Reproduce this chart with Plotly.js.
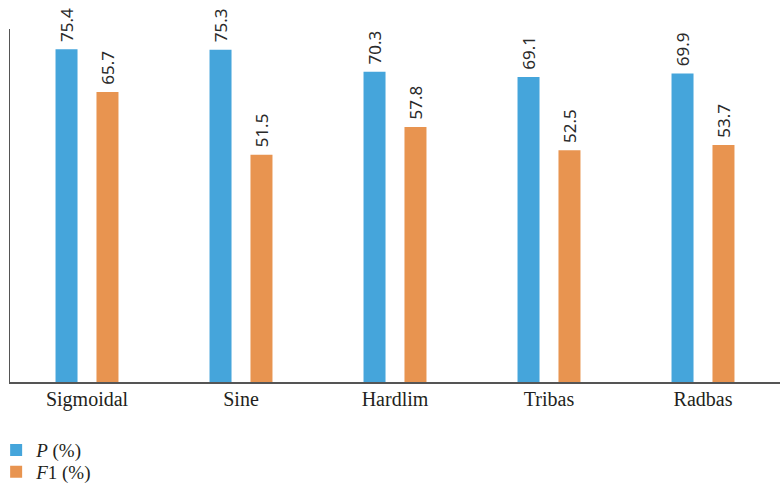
<!DOCTYPE html>
<html>
<head>
<meta charset="utf-8">
<script src="https://cdn.plot.ly/plotly-3.0.1.min.js"></script>
<style>html,body{margin:0;padding:0;background:#fff;}#chart{width:780px;height:483px;}</style>
</head>
<body>
<div id="chart"></div>
<script>
const categories = ["Sigmoidal", "Sine", "Hardlim", "Tribas", "Radbas"];
const pValues = [75.4, 75.3, 70.3, 69.1, 69.9];
const f1Values = [65.7, 51.5, 57.8, 52.5, 53.7];
const seriesNames = ["<i>P</i> (%)", "<i>F</i>1 (%)"];

const valueFont = {family: "Noto Sans, sans-serif", size: 17, color: "#2a2a2a"};
const label = v => "\u00a0" + v.toFixed(1);

const traces = [
  {type: "bar", x: categories, y: pValues, name: seriesNames[0], legend: "legend",
   marker: {color: "#45a5db"}, text: pValues.map(label),
   textposition: "outside", textangle: -90, textfont: valueFont, cliponaxis: false,
   constraintext: "none", hoverinfo: "none"},
  {type: "bar", x: categories, y: f1Values, name: seriesNames[1], legend: "legend2",
   marker: {color: "#e89450"}, text: f1Values.map(label),
   textposition: "outside", textangle: -90, textfont: valueFont, cliponaxis: false,
   constraintext: "none", hoverinfo: "none"}
];

const legendFont = {family: "Liberation Serif, serif", size: 19, color: "#231f20"};

const layout = {
  width: 780, height: 483,
  margin: {l: 10, r: 0, t: 29, b: 101, autoexpand: false},
  paper_bgcolor: "#ffffff", plot_bgcolor: "#ffffff",
  barmode: "group", bargap: 0.468, bargroupgap: 0.463,
  showlegend: true,
  legend: {x: -0.018, xanchor: "left", y: -0.139, yanchor: "top", orientation: "v",
           font: legendFont, bgcolor: "rgba(0,0,0,0)"},
  legend2: {x: -0.018, xanchor: "left", y: -0.201, yanchor: "top", orientation: "v",
           font: legendFont, bgcolor: "rgba(0,0,0,0)"},
  xaxis: {showline: true, linecolor: "#555555", linewidth: 1.5, ticks: "", showgrid: false,
          zeroline: false, tickfont: {family: "Liberation Serif, serif", size: 20, color: "#231f20"},
          ticklabelstandoff: -2, fixedrange: true},
  yaxis: {range: [0, 80], showline: true, linecolor: "#555555", linewidth: 1.5, showgrid: false,
          zeroline: false, showticklabels: false, ticks: "", fixedrange: true},
  font: {family: "Liberation Serif, serif"}
};

Plotly.newPlot("chart", traces, layout, {displayModeBar: false, staticPlot: true});
</script>
</body>
</html>
